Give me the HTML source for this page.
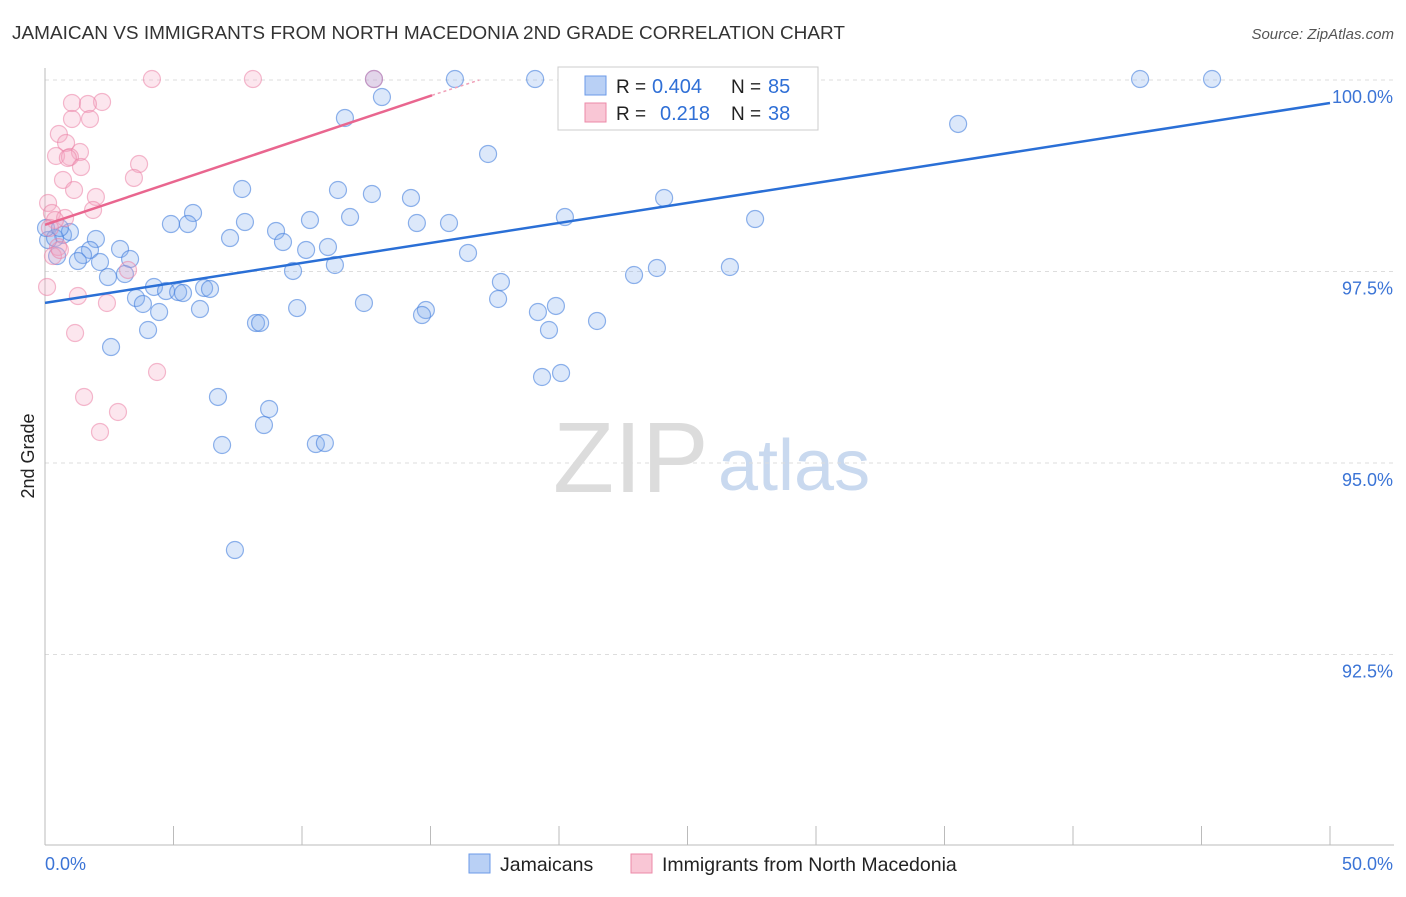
<!DOCTYPE html>
<html><head><meta charset="utf-8"><style>
body{margin:0;background:#fff;font-family:"Liberation Sans",sans-serif}
svg text{font-family:"Liberation Sans",sans-serif}
</style></head><body>
<svg id="c" width="1406" height="892">
<text x="12" y="39" font-size="18" fill="#333" textLength="833" lengthAdjust="spacingAndGlyphs">JAMAICAN VS IMMIGRANTS FROM NORTH MACEDONIA 2ND GRADE CORRELATION CHART</text>
<text x="1394" y="39" font-size="15" fill="#555" font-style="italic" text-anchor="end">Source: ZipAtlas.com</text>
<text x="34" y="456" font-size="18" fill="#222" transform="rotate(-90 34 456)" text-anchor="middle">2nd Grade</text>
<text x="553" y="492" font-size="100" fill="#dcdcdc" font-family="Liberation Serif">ZIP</text>
<text x="718" y="490" font-size="72" fill="#c9d9ef">atlas</text>
<g id="grid"></g><g id="pts"></g><g id="lines"></g>
<g>
<rect x="558" y="67" width="260" height="63" fill="#fff" stroke="#ccc"/>
<rect x="585" y="76" width="21" height="19" fill="#b9d0f5" stroke="#6b9ae8"/>
<rect x="585" y="103" width="21" height="19" fill="#f9c6d5" stroke="#ec8aa8"/>
<text x="616" y="93" font-size="19" fill="#222">R =</text><text x="652" y="93" font-size="20" fill="#2f6fd6">0.404</text>
<text x="731" y="93" font-size="19" fill="#222">N =</text><text x="768" y="93" font-size="20" fill="#2f6fd6">85</text>
<text x="616" y="120" font-size="19" fill="#222">R =</text><text x="660" y="120" font-size="20" fill="#2f6fd6">0.218</text>
<text x="731" y="120" font-size="19" fill="#222">N =</text><text x="768" y="120" font-size="20" fill="#2f6fd6">38</text>
</g>
<g>
<rect x="469" y="854" width="21" height="19" fill="#b9d0f5" stroke="#6b9ae8"/>
<text x="500" y="871" font-size="19.5" fill="#222">Jamaicans</text>
<rect x="631" y="854" width="21" height="19" fill="#f9c6d5" stroke="#ec8aa8"/>
<text x="662" y="871" font-size="19.5" fill="#222">Immigrants from North Macedonia</text>
</g>
</svg>
<script>
const xTickLabels=["0.0%","50.0%"];
const yTicks=[100,97.5,95,92.5];
const yTickLabels=["100.0%","97.5%","95.0%","92.5%"];
const bluePx=[[455,79],[535,79],[750,79],[1140,79],[1212,79],[374,79],[382,97],[345,118],[958,124],[488,154],[242,189],[338,190],[372,194],[411,198],[664,198],[193,213],[350,217],[171,224],[188,224],[245,222],[310,220],[417,223],[449,223],[565,217],[755,219],[276,231],[230,238],[283,242],[328,247],[306,250],[96,239],[63,235],[70,232],[120,249],[90,250],[83,255],[78,261],[100,262],[130,259],[468,253],[335,265],[293,271],[634,275],[657,268],[730,267],[108,277],[125,274],[501,282],[154,287],[166,291],[178,292],[183,293],[204,288],[210,289],[136,298],[143,304],[159,312],[200,309],[297,308],[364,303],[498,299],[426,310],[422,315],[538,312],[556,306],[148,330],[256,323],[260,323],[549,330],[597,321],[111,347],[218,397],[542,377],[561,373],[269,409],[264,425],[222,445],[316,444],[325,443],[235,550],[48,240],[55,238],[46,228],[60,228],[57,256]];
const pinkPx=[[152,79],[253,79],[374,79],[72,103],[102,102],[88,104],[72,119],[90,119],[59,134],[66,143],[56,156],[80,152],[70,157],[68,158],[139,164],[81,167],[134,178],[63,180],[74,190],[96,197],[48,203],[93,210],[52,213],[65,218],[55,220],[50,228],[58,247],[53,256],[128,270],[47,287],[78,296],[107,303],[75,333],[157,372],[84,397],[118,412],[100,432],[60,250]];
const jamX=bluePx.map(p=>+((p[0]-45)/1285*50).toFixed(2));
const jamY=bluePx.map(p=>+(100-(p[1]-80)/76.6).toFixed(3));
const macX=pinkPx.map(p=>+((p[0]-45)/1285*50).toFixed(2));
const macY=pinkPx.map(p=>+(100-(p[1]-80)/76.6).toFixed(3));
const blueTrend=[[0,97.09],[50,99.7]];
const pinkTrend=[[0,98.11],[15.06,99.8],[16.9,100]];
const X=v=>45+v/50*1285, Y=v=>80+(100-v)*76.6;
const NS="http://www.w3.org/2000/svg";
function mk(t,a,p){const e=document.createElementNS(NS,t);for(const k in a)e.setAttribute(k,a[k]);p.appendChild(e);return e;}
const g=document.getElementById('grid');
yTicks.forEach((v,i)=>{
 const l=mk('line',{x1:45,x2:1394,y1:Y(v),y2:Y(v),stroke:'#ddd','stroke-dasharray':'4 4'},g);
 
 
 const t=mk('text',{x:1393,y:Y(v)+23,'font-size':18,fill:'#3b74d6','text-anchor':'end'},g);t.textContent=yTickLabels[i];
 
 
});
mk('line',{x1:45,x2:45,y1:68,y2:845,stroke:'#bbb'},g);
mk('line',{x1:45,x2:1394,y1:845,y2:845,stroke:'#bbb'},g);
for(let i=0;i<=10;i++){mk('line',{x1:X(i*5),x2:X(i*5),y1:826,y2:845,stroke:'#bbb'},g);}
const t0=mk('text',{x:45,y:870,'font-size':18,fill:'#3b74d6'},g);t0.textContent=xTickLabels[0];


const t1=mk('text',{x:1393,y:870,'font-size':18,fill:'#3b74d6','text-anchor':'end'},g);t1.textContent=xTickLabels[1];


const P=document.getElementById('pts');
jamX.forEach((x,i)=>{const c=mk('circle',{cx:X(x),cy:Y(jamY[i]),r:8.5,fill:'rgba(130,172,238,0.28)',stroke:'rgba(70,128,222,0.6)','stroke-width':1.2},P);
 
 });
macX.forEach((x,i)=>{const c=mk('circle',{cx:X(x),cy:Y(macY[i]),r:8.5,fill:'rgba(245,165,195,0.28)',stroke:'rgba(235,130,165,0.55)','stroke-width':1.2},P);
 
 });
const L=document.getElementById('lines');
const bl=mk('line',{x1:X(blueTrend[0][0]),y1:Y(blueTrend[0][1]),x2:X(blueTrend[1][0]),y2:Y(blueTrend[1][1]),stroke:'#2a6fd6','stroke-width':2.5},L);


const pl=mk('line',{x1:X(pinkTrend[0][0]),y1:Y(pinkTrend[0][1]),x2:X(pinkTrend[1][0]),y2:Y(pinkTrend[1][1]),stroke:'#e9668f','stroke-width':2.5},L);


mk('line',{x1:X(pinkTrend[1][0]),y1:Y(pinkTrend[1][1]),x2:X(pinkTrend[2][0]),y2:Y(pinkTrend[2][1]),stroke:'#f0a0b8','stroke-width':1.5,'stroke-dasharray':'3 3'},L);
</script>
</body></html>
